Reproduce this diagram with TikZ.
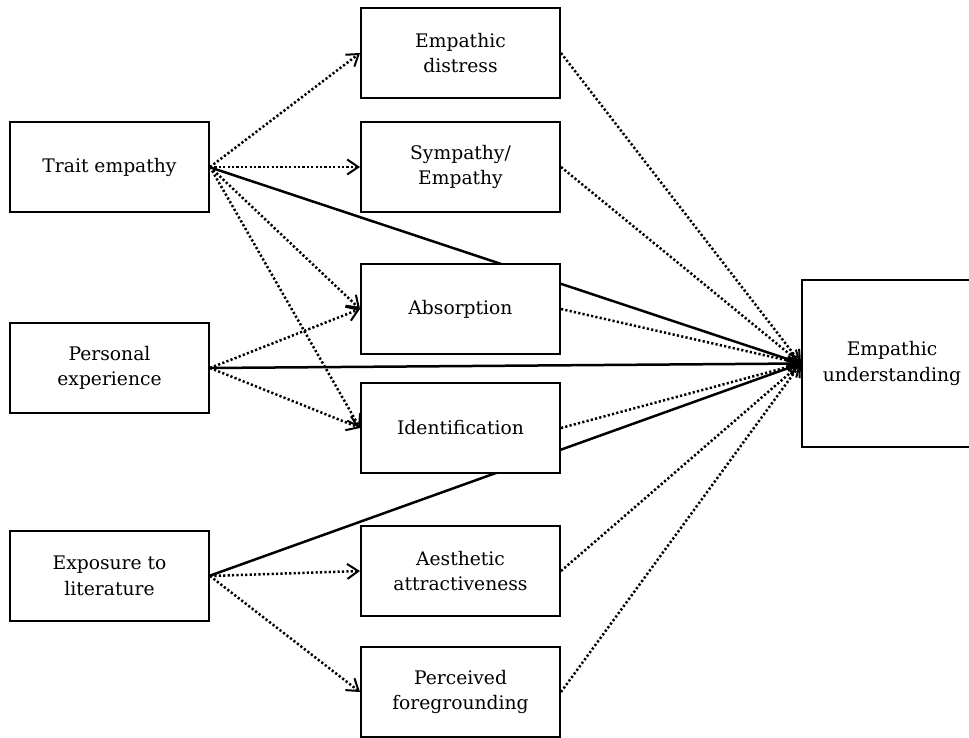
\documentclass[tikz,border=0pt]{standalone}
\usepackage{fontspec}
\setmainfont{DejaVu Serif}
\usetikzlibrary{arrows.meta}
\begin{document}
\begin{tikzpicture}[x=1pt,y=-1pt,
  box/.style={draw, line width=2pt, fill=white, minimum width=199pt, minimum height=90pt,
    align=center, inner sep=0pt, font=\fontsize{18.7}{25.5}\selectfont},
  tip/.style={-{Straight Barb[length=11pt,width=15pt,line width=2pt]}},
  solidlink/.style={tip, line width=2.5pt},
  dotlink/.style={tip, line width=2.5pt, dash pattern=on 2.2pt off 2.2pt}
]
\useasboundingbox (0,0) rectangle (969,738);

% outcome node (its right side runs off the page edge)
\node[box, minimum width=180pt, minimum height=167pt] (und) at (892,363.5) {Empathic\\understanding};

% predictors
\coordinate (traitc) at (109.5,167);
\coordinate (persc) at (109.5,368);
\coordinate (expoc) at (109.5,576);

% solid direct paths drawn first, boxes cover them
\path (traitc) ++(99.5,0) coordinate (trE);
\path (persc) ++(99.5,0) coordinate (peE);
\path (expoc) ++(99.5,0) coordinate (exE);
\draw[solidlink] (trE) -- (und.west);
\draw[solidlink] (peE) -- (und.west);
\draw[solidlink] (exE) -- (und.west);

\node[box] (trait) at (traitc) {Trait empathy};
\node[box] (pers) at (persc) {Personal\\experience};
\node[box] (expo) at (expoc) {Exposure to\\literature};

% mediators
\node[box] (dist) at (460.5,53) {Empathic\\distress};
\node[box] (symp) at (460.5,167) {Sympathy/\\Empathy};
\node[box] (abs)  at (460.5,309) {Absorption};
\node[box] (iden) at (460.5,428) {Identification};
\node[box] (aest) at (460.5,571) {Aesthetic\\attractiveness};
\node[box] (fore) at (460.5,692) {Perceived\\foregrounding};

% predictor -> mediator paths
\draw[dotlink] (trait.east) -- (dist.west);
\draw[dotlink] (trait.east) -- (symp.west);
\draw[dotlink] (trait.east) -- (abs.west);
\draw[dotlink] (trait.east) -- (iden.west);
\draw[dotlink] (pers.east) -- (abs.west);
\draw[dotlink] (pers.east) -- (iden.west);
\draw[dotlink] (expo.east) -- (aest.west);
\draw[dotlink] (expo.east) -- (fore.west);

% mediator -> outcome paths
\foreach \m in {dist,symp,abs,iden,aest,fore}
  \draw[dotlink] (\m.east) -- (und.west);
\end{tikzpicture}
\end{document}
